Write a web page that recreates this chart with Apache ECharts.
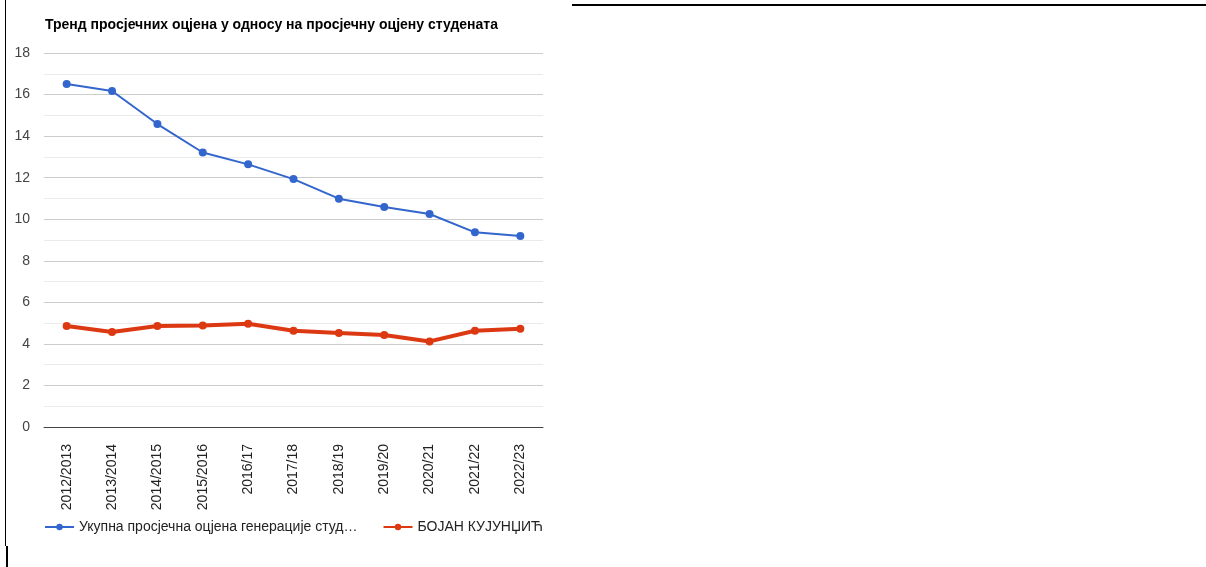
<!DOCTYPE html>
<html>
<head>
<meta charset="utf-8">
<script src="https://cdn.jsdelivr.net/npm/echarts@6/dist/echarts.min.js"></script>
<style>html,body{margin:0;padding:0;background:#fff;}#c{width:1206px;height:567px;}</style>
</head>
<body>
<div id="c"></div>
<script>
const categories = ['2012/2013','2013/2014','2014/2015','2015/2016','2016/17','2017/18','2018/19','2019/20','2020/21','2021/22','2022/23'];
const generationAvg = [16.51, 16.17, 14.58, 13.21, 12.64, 11.93, 10.99, 10.59, 10.25, 9.37, 9.19];
const studentAvg = [4.86, 4.57, 4.86, 4.89, 4.97, 4.63, 4.52, 4.43, 4.12, 4.63, 4.73];
const seriesNames = ['Укупна просјечна оцјена генерације студената', 'БОЈАН КУЈУНЏИЋ'];
const titleText = 'Тренд просјечних оцјена у односу на просјечну оцјену студената';

const chart = echarts.init(document.getElementById('c'), null, {renderer: 'canvas'});
const font = '"Liberation Sans", Arial, sans-serif';
chart.setOption({
  animation: false,
  backgroundColor: '#fff',
  textStyle: {fontFamily: font},
  title: {
    text: titleText, left: 40, top: 13,
    textStyle: {fontFamily: font, fontSize: 14, fontWeight: 'bold', color: '#000'}
  },
  grid: {left: 44, right: 663, top: 53, bottom: 140, containLabel: false},
  legend: {
    left: 39, top: 515, itemWidth: 29, itemHeight: 8, itemGap: 25,
    textStyle: {fontFamily: font, fontSize: 14, color: '#222'},
    formatter: function (name) {
      return name === seriesNames[0] ? name.slice(0, 39) + '…' : name;
    },
    data: seriesNames
  },
  xAxis: {
    type: 'category', data: categories, boundaryGap: true,
    axisLine: {show: true, lineStyle: {color: '#444', width: 1}},
    axisTick: {show: false},
    axisLabel: {rotate: 90, margin: 17, fontSize: 14, color: '#222', fontFamily: font, interval: 0}
  },
  yAxis: {
    type: 'value', min: 0, max: 18, interval: 2,
    axisLine: {show: false}, axisTick: {show: false},
    axisLabel: {fontSize: 14, color: '#444', margin: 14, fontFamily: font},
    splitLine: {lineStyle: {color: '#cccccc', width: 1}},
    minorTick: {show: false, splitNumber: 2},
    minorSplitLine: {show: true, lineStyle: {color: '#ebebeb', width: 1}}
  },
  series: [
    {
      name: seriesNames[0], type: 'line', data: generationAvg,
      symbol: 'circle', symbolSize: 8,
      itemStyle: {color: '#3366cc'},
      lineStyle: {color: '#3366cc', width: 2}
    },
    {
      name: seriesNames[1], type: 'line', data: studentAvg,
      symbol: 'circle', symbolSize: 8,
      itemStyle: {color: '#dc3912'},
      lineStyle: {color: '#dc3912', width: 4}
    }
  ],
  graphic: [
    {type: 'rect', shape: {x: 572, y: 4, width: 634, height: 2}, style: {fill: '#000'}, silent: true},
    {type: 'rect', shape: {x: 5, y: 0, width: 1, height: 546}, style: {fill: '#000'}, silent: true},
    {type: 'rect', shape: {x: 6, y: 546, width: 2, height: 21}, style: {fill: '#000'}, silent: true}
  ]
});
</script>
</body>
</html>
